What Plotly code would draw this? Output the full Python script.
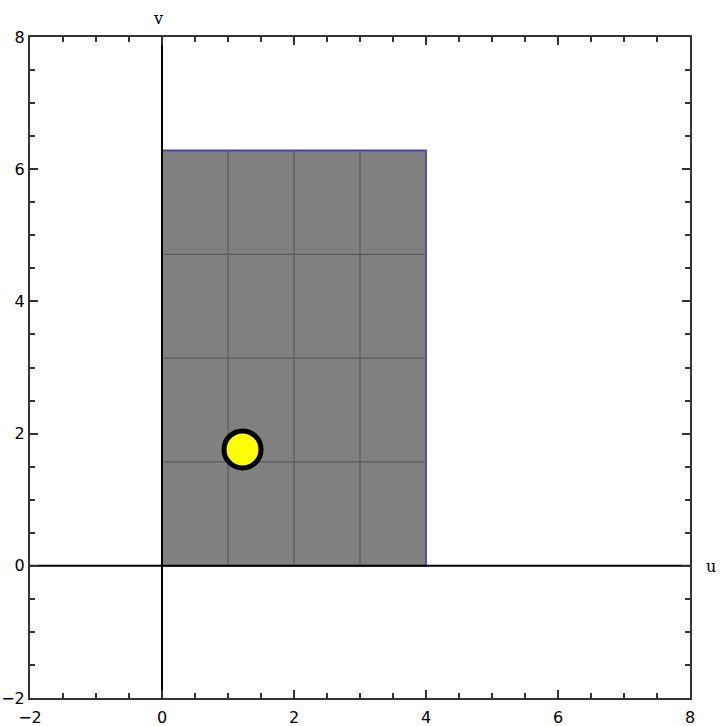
import plotly.graph_objects as go
import math

# data
rect_u = [0, 4, 4, 0, 0]
rect_v = [0, 0, 2 * math.pi, 2 * math.pi, 0]
grid_u = [1, 2, 3]
grid_v = [math.pi / 2, math.pi, 3 * math.pi / 2]
point_u = [1.22]
point_v = [1.76]
x_ticks = [-2, 0, 2, 4, 6, 8]
y_ticks = [-2, 0, 2, 4, 6, 8]

fig = go.Figure()

# filled rectangle
fig.add_trace(go.Scatter(x=rect_u, y=rect_v, mode="lines", fill="toself",
                         fillcolor="#808080", line=dict(color="#4646a8", width=1.8),
                         hoverinfo="skip", showlegend=False))
# grid lines inside
for gu in grid_u:
    fig.add_trace(go.Scatter(x=[gu, gu], y=[rect_v[0], rect_v[2]], mode="lines",
                             line=dict(color="#5a5a5a", width=1.2), showlegend=False))
for gv in grid_v:
    fig.add_trace(go.Scatter(x=[rect_u[0], rect_u[1]], y=[gv, gv], mode="lines",
                             line=dict(color="#5a5a5a", width=1.2), showlegend=False))
# axes lines
fig.add_trace(go.Scatter(x=[-2, 8], y=[0, 0], mode="lines",
                         line=dict(color="black", width=2), showlegend=False))
fig.add_trace(go.Scatter(x=[0, 0], y=[-2, 8], mode="lines",
                         line=dict(color="black", width=2), showlegend=False))
# point
fig.add_trace(go.Scatter(x=point_u, y=point_v, mode="markers",
                         marker=dict(size=37, color="#ffff00",
                                     line=dict(color="black", width=5)),
                         showlegend=False))

axis_common = dict(
    showgrid=False, zeroline=False, showline=True, linecolor="#333333", linewidth=2,
    mirror="allticks", ticks="inside", ticklen=8, tickwidth=2, tickcolor="#333333",
    minor=dict(dtick=0.5, ticks="inside", ticklen=5, tickwidth=2, tickcolor="#333333"),
    tickfont=dict(family="DejaVu Sans", size=16, color="black"),
    automargin=False,
)
fig.update_xaxes(range=[-2, 8], tickvals=x_ticks, ticktext=[("−2" if t < 0 else str(t)) for t in x_ticks],
                 ticklabelstandoff=4, **axis_common)
fig.update_yaxes(range=[-2, 8], tickvals=y_ticks, ticktext=[("−2" if t < 0 else str(t)) for t in y_ticks],
                 **axis_common)

fig.add_annotation(x=0, y=1, xref="x", yref="paper", yshift=30, text="v", showarrow=False,
                   xshift=-4, font=dict(family="DejaVu Serif", size=16, color="black"))
fig.add_annotation(x=1, y=0, xref="paper", yref="y", xshift=28, yshift=-1, text="u", showarrow=False,
                   font=dict(family="DejaVu Serif", size=16, color="black"))

fig.update_layout(width=720, height=726, margin=dict(l=30, r=30, t=37, b=28),
                  plot_bgcolor="white", paper_bgcolor="white")

fig.write_html("out.html")
